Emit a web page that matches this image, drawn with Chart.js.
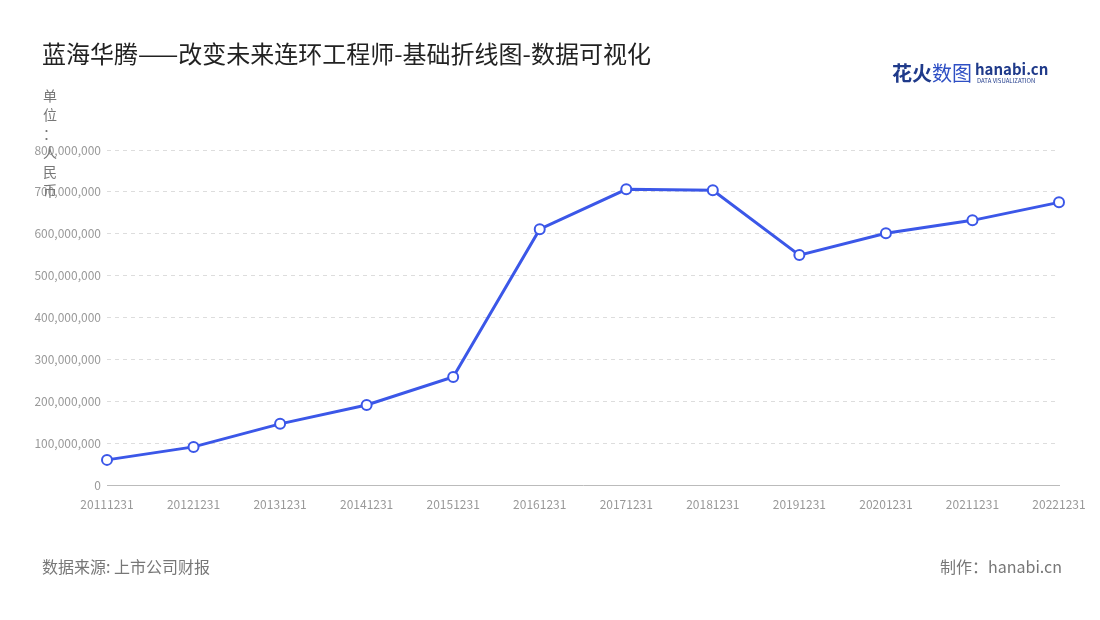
<!DOCTYPE html>
<html><head><meta charset="utf-8">
<script src="https://cdn.jsdelivr.net/npm/chart.js@4"></script>
<style>body{margin:0;background:#fff}</style>
</head><body>
<canvas id="c" width="1100" height="620"></canvas>
<script>
const categories=['20111231','20121231','20131231','20141231','20151231','20161231','20171231','20181231','20191231','20201231','20211231','20221231'];
const revenue=[60000000,91000000,146000000,191000000,258000000,611000000,706000000,704000000,549000000,601000000,632000000,675000000];
const FONT='"Noto Sans CJK SC","Noto Sans",sans-serif';
const texts={
 id:'texts',
 afterDraw(c){
  const g=c.ctx;g.save();
  g.fillStyle='#222';g.font='24px '+FONT;g.textBaseline='middle';g.textAlign='left';
  g.fillText('蓝海华腾——改变未来连环工程师-基础折线图-数据可视化',42,54);
  g.fillStyle='#777';g.font='14px '+FONT;
  const u='单位：人民币';
  for(let i=0;i<u.length;i++) g.fillText(u[i],43,96+i*19);
  g.font='16px '+FONT;
  g.fillText('数据来源: 上市公司财报',42,567);
  g.textAlign='right';g.fillText('制作：hanabi.cn',1062,567);
  g.textAlign='left';
  g.fillStyle='#1f3a8a';g.font='bold 20px '+FONT;g.fillText('花火',892,73);
  g.fillStyle='#2e4fc4';g.font='20px '+FONT;g.fillText('数图',932,73);
  g.fillStyle='#1f3a8a';g.font='bold 15px '+FONT;g.fillText('hanabi.cn',975,69);
  g.font='6px '+FONT;g.fillText('DATA VISUALIZATION',977,81);
  g.restore();
 }
};
new Chart(document.getElementById('c'),{
 type:'line',
 data:{labels:categories,datasets:[{data:revenue,borderColor:'#3b57e8',borderWidth:3,pointRadius:5,pointHoverRadius:5,pointBackgroundColor:'#fff',pointBorderColor:'#3b57e8',pointBorderWidth:2,tension:0}]},
 options:{responsive:false,animation:false,
  layout:{padding:{left:20,right:41,top:150,bottom:105}},
  plugins:{legend:{display:false},tooltip:{enabled:false}},
  scales:{
   x:{offset:false,grid:{display:false},border:{color:'#bbb'},
      ticks:{color:'#999',font:{size:12,family:FONT},maxRotation:0,autoSkip:false,padding:4},
      afterFit(s){s.height=30;}},
   y:{min:0,max:800000000,
      ticks:{stepSize:100000000,color:'#999',font:{size:12,family:FONT},padding:6,callback:v=>v.toLocaleString('en-US')},
      grid:{color:'#ddd',drawTicks:false},border:{display:false,dash:[4,4]},
      afterFit(s){s.width=87;}}
  }},
 plugins:[texts]
});
</script>
</body></html>
